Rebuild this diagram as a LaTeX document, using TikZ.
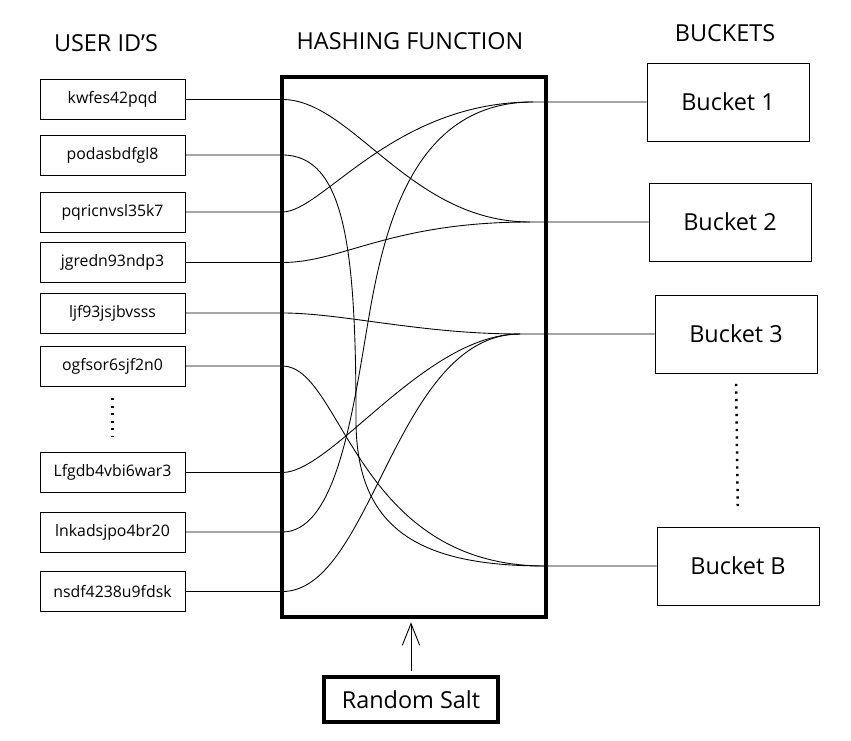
\documentclass[tikz,border=0pt]{standalone}
\usepackage{fontspec}
\setmainfont{Open Sans}
\usetikzlibrary{arrows.meta}

\begin{document}
\begin{tikzpicture}[x=0.03cm, y=-0.03cm,
    idbox/.style={draw, line width=0.6pt, minimum width=4.35cm, minimum height=1.2cm, font=\fontsize{13.5}{15}\selectfont},
    bucket/.style={draw, line width=0.6pt, minimum width=4.86cm, minimum height=2.34cm, font=\fontsize{20}{24}\selectfont},
    thickbox/.style={draw, line width=3pt},
    heading/.style={font=\fontsize{20}{24}\selectfont},
    wire/.style={line width=0.75pt},
    dots/.style={line width=2.1pt, dash pattern=on 2pt off 4.4pt}]
    \useasboundingbox (0,0) rectangle (851,741);

    \node[heading] (hids) at (106,43) {USER ID'S};
    \node[heading] (hhash) at (410,41) {HASHING FUNCTION};
    \node[heading] (hbuck) at (725,33) {BUCKETS};

    \node[idbox] (u1) at (112.5,99.5) {kwfes42pqd};
    \node[idbox] (u2) at (112.5,155) {podasbdfgl8};
    \node[idbox] (u3) at (112.5,212) {pqricnvsl35k7};
    \node[idbox] (u4) at (112.5,262.5) {jgredn93ndp3};
    \node[idbox] (u5) at (112.5,313) {ljf93jsjbvsss};
    \node[idbox] (u6) at (112.5,366) {ogfsor6sjf2n0};
    \node[idbox] (u7) at (112.5,472.5) {Lfgdb4vbi6war3};
    \node[idbox] (u8) at (112.5,532) {lnkadsjpo4br20};
    \node[idbox] (u9) at (112.5,591.5) {nsdf4238u9fdsk};
    \draw[dots, shorten <=10pt, shorten >=13pt] (u6.south) -- (u7.north);

    \node[thickbox, minimum width=7.92cm, minimum height=16.2cm] (hash) at (414,347) {};

    \node[bucket] (b1) at (728,102) {Bucket 1};
    \node[bucket] (b2) at (730,222) {Bucket 2};
    \node[bucket] (b3) at (736,334) {Bucket 3};
    \node[bucket] (bB) at (738,566) {Bucket B};
    \draw[dots, shorten <=9pt, shorten >=17pt] (b3.south) -- (bB.north);

    \node[thickbox, minimum width=5.22cm, minimum height=1.35cm, font=\fontsize{20}{24}\selectfont] (salt) at (411,699.5) {Random Salt};
    \draw[line width=0.8pt, -{Straight Barb[length=6.5mm, width=5.2mm]}, shorten <=4pt, shorten >=3pt] (salt.north) -- (salt.north |- hash.south);

    \coordinate (j1) at (533,102);
    \coordinate (j2) at (530,222);
    \coordinate (j3) at (520,334);
    \coordinate (jB) at (545,566);
    \coordinate (m2) at (356,420);
    \coordinate (m8) at (365,340);

    \draw[wire] (u1.east) -- ++(97,0) .. controls +(70,0) and +(-120,0) .. (j2) -- (b2.west);
    \draw[wire] (u2.east) -- ++(97,0) .. controls +(63,0) and +(0,-170) .. (m2) .. controls +(0,110) and +(-125,0) .. (jB) -- (bB.west);
    \draw[wire] (u3.east) -- ++(97,0) .. controls +(40,0) and +(-140,0) .. (j1) -- (b1.west);
    \draw[wire] (u4.east) -- ++(97,0) .. controls +(60,0) and +(-140,0) .. (j2);
    \draw[wire] (u5.east) -- ++(97,0) .. controls +(60,0) and +(-100,0) .. (j3) -- (b3.west);
    \draw[wire] (u6.east) -- ++(97,0) .. controls +(60,0) and +(-190,0) .. (jB);
    \draw[wire] (u7.east) -- ++(97,0) .. controls +(50,0) and +(-95,0) .. (j3);
    \draw[wire] (u8.east) -- ++(97,0) .. controls +(50,0) and +(-15,90) .. (m8) .. controls +(15,-90) and +(-130,0) .. (j1);
    \draw[wire] (u9.east) -- ++(97,0) .. controls +(90,0) and +(-125,0) .. (j3);
\end{tikzpicture}
\end{document}
